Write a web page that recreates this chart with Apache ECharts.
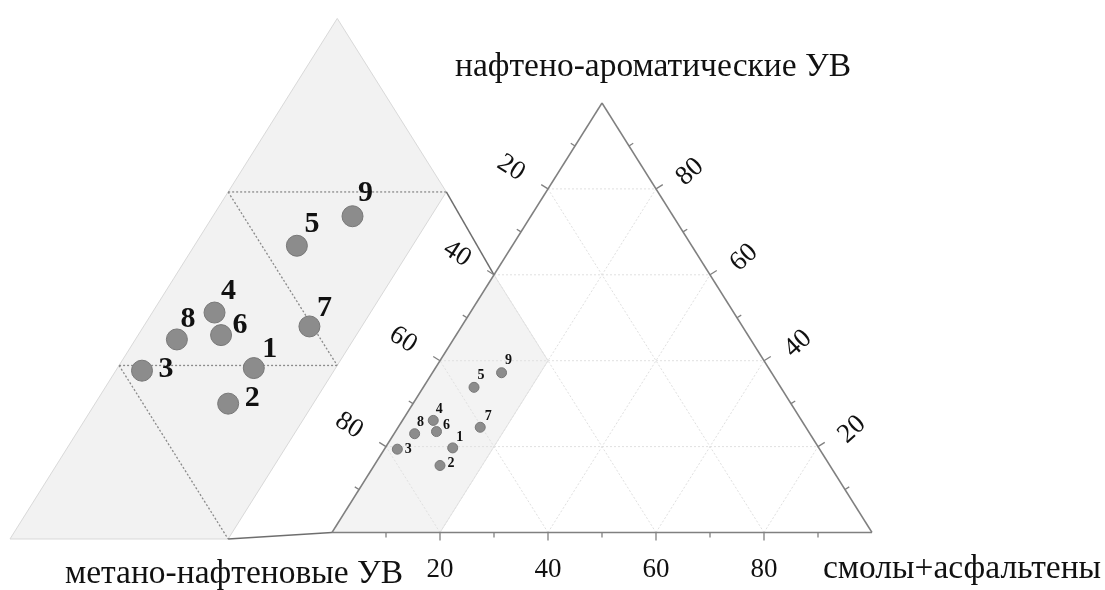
<!DOCTYPE html>
<html>
<head>
<meta charset="utf-8">
<script src="https://cdn.jsdelivr.net/npm/echarts@6/dist/echarts.min.js"></script>
<style>
  html, body { margin: 0; padding: 0; background: #fff; }
  #chart { width: 1105px; height: 590px; }
</style>
</head>
<body>
<div id="chart"></div>
<script>
// Sample numbers and ternary composition, % of the hydrocarbon fraction
const sampleNames = ['1', '2', '3', '4', '5', '6', '7', '8', '9'];
const naphthenoAromatic = [19.7, 15.6, 19.4, 26.1, 33.8, 23.5, 24.5, 23.0, 37.2];
const methanoNaphthenic = [67.8, 72.2, 78.2, 68.2, 56.8, 68.9, 60.3, 73.2, 50.0];
const resinsAsphaltenes = [12.5, 12.2, 2.4, 5.7, 9.4, 7.6, 15.2, 3.8, 12.8];

// Axis ticks (percent)
const majorTicks = [20, 40, 60, 80];
const minorTicks = [10, 30, 50, 70, 90];

// Axis titles
const titleTop = 'нафтено-ароматические УВ';
const titleLeft = 'метано-нафтеновые УВ';
const titleRight = 'смолы+асфальтены';

// Enlarged window: resins+asphaltenes 0-20 %, methano-naphthenic 40-100 %
const windowResinsMax = 20;
const windowMethanoMin = 40;

// ---- layout ----
const FONT = '"Liberation Serif", "Times New Roman", serif';
const INSET = { k: 2.02, ox: -0.5963, oy: -0.0151 };
const mainLabelOffset = [[7, -10], [11, -2], [11, 0], [6, -11], [7, -12], [10, -6], [8, -11], [6, -11], [7, -12]];
const insetLabelOffset = [[16, -19], [24, -5], [24, -1], [14, -21], [15, -21], [19, -10], [15, -18], [11, -20], [13, -23]];

// ternary (a = apex share, c = right share, fractions) -> plane
function tern(a, c) { return [c + a / 2, a]; }
function toInset(p) { return [INSET.ox + INSET.k * p[0], INSET.oy + INSET.k * p[1]]; }
function samplePoint(i) {
  const s = naphthenoAromatic[i] + methanoNaphthenic[i] + resinsAsphaltenes[i];
  return tern(naphthenoAromatic[i] / s, resinsAsphaltenes[i] / s);
}

const cMax = windowResinsMax / 100;
const aMax = 1 - windowMethanoMin / 100;
const windowPoly = [tern(0, 0), tern(aMax, 0), tern(aMax - cMax, cMax), tern(0, cMax)];
const triangle = [tern(0, 0), tern(1, 0), tern(0, 1)];

// main grid lines
const gridSegs = [];
majorTicks.forEach(v => {
  const t = v / 100;
  gridSegs.push([tern(t, 0), tern(t, 1 - t)]);          // constant apex share
  gridSegs.push([tern(0, t), tern(1 - t, t)]);          // constant right share
  gridSegs.push([tern(0, 1 - t), tern(1 - t, 0)]);      // constant left share
});

// grid lines inside the enlarged window
const windowGridSegs = [
  [tern(0.2, 0), tern(0.2, 0.2)],
  [tern(0.4, 0), tern(0.4, 0.2)],
  [tern(0.4, 0), tern(0.2, 0.2)],
  [tern(0.2, 0), tern(0, 0.2)]
].map(s => s.map(toInset));

const edgeSegs = [[triangle[0], triangle[1]], [triangle[1], triangle[2]], [triangle[2], triangle[0]]];
const connectorSegs = [
  [toInset(windowPoly[2]), windowPoly[1]],
  [toInset(windowPoly[3]), windowPoly[0]]
];

// ticks: axis 0 = bottom (right share), 1 = left (left share), 2 = right (apex share)
const tickData = [];
const labelData = [];
function pushTicks(list, major) {
  list.forEach(v => {
    const t = v / 100;
    const pts = [tern(0, t), tern(1 - t, 0), tern(t, 1 - t)];
    pts.forEach((p, ax) => {
      tickData.push([p[0], p[1], ax, major ? 1 : 0]);
      if (major) labelData.push([p[0], p[1], ax, v]);
    });
  });
}
pushTicks(majorTicks, true);
pushTicks(minorTicks, false);

function segSeries(segs, style, z) {
  return {
    type: 'custom', coordinateSystem: 'cartesian2d', silent: true, clip: false, z,
    data: segs.map(s => [s[0][0], s[0][1], s[1][0], s[1][1]]),
    renderItem: (params, api) => {
      const p1 = api.coord([api.value(0), api.value(1)]);
      const p2 = api.coord([api.value(2), api.value(3)]);
      return { type: 'line', shape: { x1: p1[0], y1: p1[1], x2: p2[0], y2: p2[1] }, style: style };
    }
  };
}

function polySeries(polys, style, z) {
  return {
    type: 'custom', coordinateSystem: 'cartesian2d', silent: true, clip: false, z,
    data: polys.map((p, i) => [p[0][0], p[0][1], i]),
    renderItem: (params, api) => {
      const pts = polys[params.dataIndex].map(p => api.coord(p));
      return { type: 'polygon', shape: { points: pts }, style: style };
    }
  };
}

function outwardDirs(api) {
  const B = api.coord(triangle[0]), A = api.coord(triangle[1]), C = api.coord(triangle[2]);
  const norm = (x, y) => { const l = Math.hypot(x, y); return [x / l, y / l]; };
  const left = norm(-(A[1] - B[1]), A[0] - B[0]);
  const right = norm(A[1] - C[1], -(A[0] - C[0]));
  return [[0, 1], left[0] < 0 ? left : [-left[0], -left[1]], right[0] > 0 ? right : [-right[0], -right[1]]];
}

const tickSeries = {
  type: 'custom', coordinateSystem: 'cartesian2d', silent: true, clip: false, z: 5,
  data: tickData,
  renderItem: (params, api) => {
    const p = api.coord([api.value(0), api.value(1)]);
    const d = outwardDirs(api)[api.value(2)];
    const len = api.value(3) ? 8 : 5;
    return {
      type: 'line',
      shape: { x1: p[0], y1: p[1], x2: p[0] + d[0] * len, y2: p[1] + d[1] * len },
      style: { stroke: '#808080', lineWidth: 1.3 }
    };
  }
};

const labelPlacement = [
  { dx: 0, dy: 37, rot: 0 },
  { dx: -37, dy: -21, rot: -33 },
  { dx: 34, dy: -17, rot: 42 }
];
const tickLabelSeries = {
  type: 'custom', coordinateSystem: 'cartesian2d', silent: true, clip: false, z: 5,
  data: labelData,
  renderItem: (params, api) => {
    const p = api.coord([api.value(0), api.value(1)]);
    const pl = labelPlacement[api.value(2)];
    return {
      type: 'text',
      x: p[0] + pl.dx, y: p[1] + pl.dy,
      rotation: pl.rot * Math.PI / 180,
      style: {
        text: String(api.value(3)), fill: '#111', fontSize: 27, fontFamily: FONT,
        align: 'center', verticalAlign: 'middle'
      }
    };
  }
};

function scatterSeries(transform, size, offsets, fontSize, z) {
  return {
    type: 'scatter', coordinateSystem: 'cartesian2d', silent: true, clip: false, z,
    symbol: 'circle', symbolSize: size,
    itemStyle: { color: '#8c8c8c', borderColor: '#787878', borderWidth: 1, opacity: 1 },
    label: {
      show: true, position: 'inside', formatter: '{b}', color: '#111',
      fontFamily: FONT, fontWeight: 'bold', fontSize: fontSize
    },
    data: sampleNames.map((n, i) => ({
      name: n,
      value: transform(samplePoint(i)),
      label: { offset: offsets[i] }
    }))
  };
}

function titleText(text, x, y) {
  return {
    type: 'text', x: x, y: y, silent: true,
    style: { text: text, fontSize: 33.5, fontFamily: FONT, fill: '#111', align: 'center', verticalAlign: 'middle' }
  };
}

const chart = echarts.init(document.getElementById('chart'), null, { renderer: 'canvas' });
chart.setOption({
  animation: false,
  backgroundColor: '#ffffff',
  grid: { left: 0, right: 0, top: 0, bottom: 0, containLabel: false },
  xAxis: { type: 'value', min: -332 / 540, max: 773 / 540, show: false },
  yAxis: { type: 'value', min: -57.5 / 429.5, max: 532.5 / 429.5, show: false },
  graphic: [
    titleText(titleTop, 653, 67),
    titleText(titleLeft, 234, 574),
    titleText(titleRight, 962, 569)
  ],
  series: [
    polySeries([windowPoly.map(toInset)], { fill: '#f2f2f2', stroke: '#d9d9d9', lineWidth: 1 }, 1),
    polySeries([windowPoly], { fill: '#f3f3f3', stroke: '#e4e4e4', lineWidth: 1 }, 1),
    segSeries(gridSegs, { stroke: '#e0e0e0', lineWidth: 1, lineDash: [2, 2] }, 2),
    segSeries(windowGridSegs, { stroke: '#8a8a8a', lineWidth: 1.3, lineDash: [2, 2] }, 2),
    segSeries(connectorSegs, { stroke: '#6e6e6e', lineWidth: 1.5 }, 3),
    segSeries(edgeSegs, { stroke: '#808080', lineWidth: 1.5 }, 4),
    tickSeries,
    tickLabelSeries,
    scatterSeries(p => toInset(p), 21, insetLabelOffset, 30, 10),
    scatterSeries(p => p, 10, mainLabelOffset, 14, 10)
  ]
});
</script>
</body>
</html>
